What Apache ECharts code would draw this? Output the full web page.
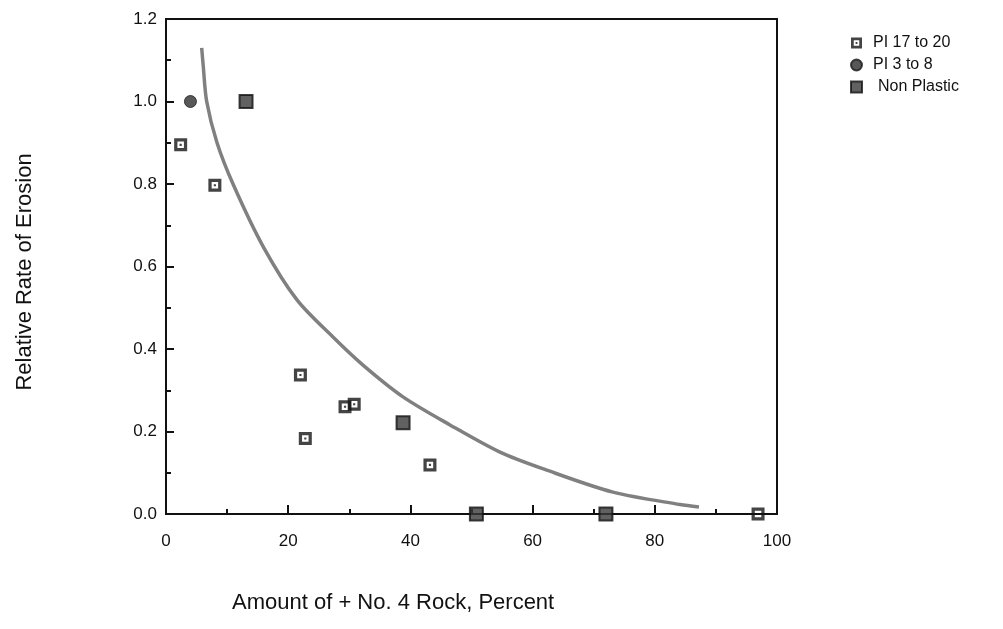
<!DOCTYPE html>
<html>
<head>
<meta charset="utf-8">
<script src="https://cdn.jsdelivr.net/npm/echarts@6/dist/echarts.min.js"></script>
<style>html,body{margin:0;padding:0;background:#fff}#c{width:1003px;height:629px}</style>
</head>
<body>
<div id="c"></div>
<script>
// Data
var pi17to20 = [[2.4, 0.895], [8.0, 0.797], [22.0, 0.337], [22.8, 0.183], [29.3, 0.26], [30.8, 0.266], [43.2, 0.119], [96.9, 0.0]];
var pi3to8 = [[4.0, 1.0]];
var nonPlastic = [[13.1, 1.0], [38.8, 0.221], [50.8, 0.0], [72.0, 0.0]];
var curve = [[5.84, 1.13], [6.1, 1.085], [6.66, 1.0], [8.35, 0.9], [10.97, 0.8], [15.88, 0.649], [21.44, 0.519], [27.33, 0.429], [32.24, 0.361], [38.79, 0.284], [46.48, 0.216], [54.66, 0.150], [62.0, 0.108], [73.16, 0.053], [84.12, 0.023], [87.23, 0.017]];
var xTicks = [0, 20, 40, 60, 80, 100];
var yTicks = [0, 0.2, 0.4, 0.6, 0.8, 1.0, 1.2];

var openSq = 'path://M0,0H12V12H0Z M3,3V9H9V3Z M5,5H7V7H5Z';
var font = 'Liberation Sans, Arial, Helvetica, sans-serif';

var chart = echarts.init(document.getElementById('c'));
chart.setOption({
  animation: false,
  backgroundColor: '#fff',
  grid: { left: 166, right: 226, top: 19, bottom: 115, show: true, borderColor: '#111', borderWidth: 2, backgroundColor: 'transparent' },
  legend: {
    orient: 'vertical', left: 845, top: 30, itemGap: 6, itemWidth: 11, itemHeight: 11,
    textStyle: { fontFamily: font, fontSize: 16, color: '#111', padding: [0, 0, 0, 6] },
    data: [
      { name: 'PI 17 to 20', icon: openSq },
      { name: 'PI 3 to 8', icon: 'circle' },
      { name: 'Non Plastic', icon: 'rect', textStyle: { padding: [0, 0, 0, 11] } }
    ]
  },
  xAxis: {
    type: 'value', min: 0, max: 100, interval: 20,
    axisLine: { show: true, onZero: false, lineStyle: { color: '#111', width: 2 } },
    axisTick: { show: true, inside: true, length: 9, lineStyle: { color: '#111', width: 2 } },
    minorTick: { show: true, splitNumber: 2, length: 5, lineStyle: { color: '#111', width: 2 } },
    splitLine: { show: false },
    axisLabel: { margin: 19, fontFamily: font, fontSize: 17, color: '#111',
      formatter: function (v) { return xTicks.indexOf(v) >= 0 ? String(v) : ''; } }
  },
  yAxis: {
    type: 'value', min: 0, max: 1.2, interval: 0.2,
    axisLine: { show: true, onZero: false, lineStyle: { color: '#111', width: 2 } },
    axisTick: { show: true, inside: true, length: 8, lineStyle: { color: '#111', width: 2 } },
    minorTick: { show: true, splitNumber: 2, length: 5, lineStyle: { color: '#111', width: 2 } },
    splitLine: { show: false },
    axisLabel: { margin: 9, fontFamily: font, fontSize: 17, color: '#111',
      formatter: function (v) { return v.toFixed(1); } }
  },
  graphic: [
    { type: 'text', left: 232, top: 592, style: { text: 'Amount of + No. 4 Rock, Percent', font: '22px ' + font, fill: '#111' } },
    { type: 'text', x: 25, y: 272, rotation: Math.PI / 2, style: { text: 'Relative Rate of Erosion', font: '22px ' + font, fill: '#111', align: 'center', verticalAlign: 'middle' } }
  ],
  series: [
    { name: 'Fit', type: 'line', data: curve, smooth: 0.3, showSymbol: false, symbol: 'none',
      lineStyle: { color: '#808080', width: 3.5 }, z: 1, silent: true },
    { name: 'PI 17 to 20', type: 'scatter', data: pi17to20, symbol: openSq, symbolSize: 13,
      itemStyle: { color: '#151515' }, z: 3 },
    { name: 'PI 3 to 8', type: 'scatter', data: pi3to8, symbol: 'circle', symbolSize: 12,
      itemStyle: { color: '#2e2e2e', borderColor: '#1a1a1a', borderWidth: 1 }, z: 3 },
    { name: 'Non Plastic', type: 'scatter', data: nonPlastic, symbol: 'rect', symbolSize: 13,
      itemStyle: { color: '#3a3a3a', borderColor: '#111', borderWidth: 2 }, z: 3 }
  ]
});
</script>
</body>
</html>
